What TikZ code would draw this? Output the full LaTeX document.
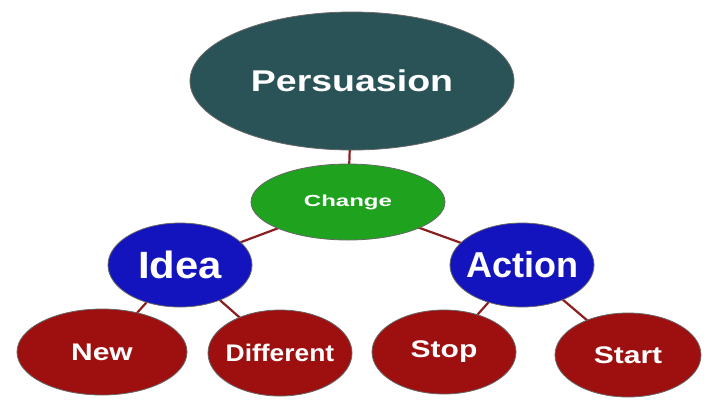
\documentclass[tikz,border=0pt]{standalone}
\usepackage{fontspec}
\setmainfont{Liberation Sans}
\usetikzlibrary{shapes.geometric}
\definecolor{teal}{HTML}{2A5358}
\definecolor{grn}{HTML}{1FA31F}
\definecolor{blu}{HTML}{1414BE}
\definecolor{red}{HTML}{9E1010}
\definecolor{lnk}{HTML}{8B1E1E}
\newcommand{\wide}[2]{\scalebox{#1}[1]{#2}}
\tikzset{
  bub/.style={ellipse,draw=black!60,line width=0.8pt,inner sep=0pt},
  txt/.style={text=white,font=\bfseries\fontsize{#1}{#1}\selectfont,inner sep=0pt},
  lk/.style={draw=lnk,line width=2.2pt}
}
\begin{document}
\begin{tikzpicture}[x=1pt,y=-1pt]
\useasboundingbox (0,0) rectangle (728,400);
\coordinate (pc) at (352,81);
\coordinate (cc) at (348,202);
\coordinate (ic) at (180,265);
\coordinate (ac) at (522,265);
\coordinate (nc) at (102,352);
\coordinate (dc) at (280,353);
\coordinate (sc) at (444,352);
\coordinate (tc) at (628,355);
\draw[lk] (pc)--(cc) (cc)--(ic) (cc)--(ac) (ic)--(nc) (ic)--(dc) (ac)--(sc) (ac)--(tc);
\node[bub,fill=teal,minimum width=324pt,minimum height=138pt] (p) at (pc) {};
\node[bub,fill=grn,minimum width=194pt,minimum height=76pt] (c) at (cc) {};
\node[bub,fill=blu,minimum width=144pt,minimum height=84pt] (i) at (ic) {};
\node[bub,fill=blu,minimum width=144pt,minimum height=84pt] (a) at (ac) {};
\node[bub,fill=red,minimum width=170pt,minimum height=86pt] (n) at (nc) {};
\node[bub,fill=red,minimum width=144pt,minimum height=86pt] (d) at (dc) {};
\node[bub,fill=red,minimum width=144pt,minimum height=84pt] (s) at (sc) {};
\node[bub,fill=red,minimum width=146pt,minimum height=84pt] (t) at (tc) {};
\node[txt=30] (pt) at (p.center) {\wide{1.25}{Persuasion}};
\node[txt=16] (ct) at (c.center) {\wide{1.5}{Change}};
\node[txt=38] (it) at (i.center) {\wide{1.1}{Idea}};
\node[txt=36] (at) at (a.center) {\wide{1.0}{Action}};
\node[txt=24] (nt) at (n.center) {\wide{1.25}{New}};
\node[txt=24] (dt) at (d.center) {\wide{1.1}{Different}};
\node[txt=24] (st) at (s.center) {\wide{1.25}{Stop}};
\node[txt=24] (tt) at (t.center) {\wide{1.25}{Start}};
\end{tikzpicture}
\end{document}
